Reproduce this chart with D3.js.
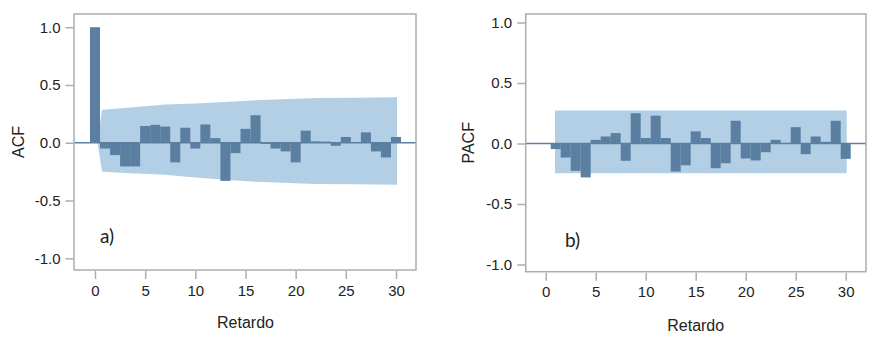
<!DOCTYPE html>
<html><head><meta charset="utf-8">
<script src="https://cdn.jsdelivr.net/npm/d3@7"></script>
<style>
html,body{margin:0;padding:0;background:#fff;}
svg text{font-family:"Liberation Sans",Arial,sans-serif;fill:#222;}
</style></head>
<body><svg id="c" width="884" height="346"></svg>
<script>
// ---- data ----
const acfLags = d3.range(0, 31);
const acfValues = [1.0, -0.05, -0.107, -0.205, -0.205, 0.145, 0.155, 0.14, -0.17, 0.13, -0.05, 0.158, 0.04, -0.33, -0.09, 0.12, 0.238, -0.01, -0.05, -0.075, -0.17, 0.105, 0.012, 0.01, -0.026, 0.05, 0.003, 0.09, -0.075, -0.127, 0.05];
const acfBandLags  = [0.25, 0.7, 3, 7, 10, 13, 16, 20, 22, 26, 30.1];
const acfBandUpper = [0, 0.286, 0.30, 0.33, 0.34, 0.353, 0.368, 0.38, 0.387, 0.39, 0.393];
const acfBandLower = [0, -0.25, -0.262, -0.277, -0.30, -0.32, -0.338, -0.35, -0.356, -0.36, -0.364];

const pacfLags = d3.range(1, 31);
const pacfValues = [-0.046, -0.116, -0.226, -0.28, 0.03, 0.058, 0.086, -0.143, 0.25, 0.045, 0.23, 0.045, -0.232, -0.18, 0.10, 0.045, -0.204, -0.163, 0.188, -0.124, -0.14, -0.072, 0.03, 0.005, 0.135, -0.088, 0.058, 0.014, 0.188, -0.127];
const pacfBandLags  = [0.93, 30.1];
const pacfBandUpper = [0.273, 0.273];
const pacfBandLower = [-0.245, -0.245];

const xTicks = [0, 5, 10, 15, 20, 25, 30];
const yTicks = [-1.0, -0.5, 0.0, 0.5, 1.0];
const xTitle = "Retardo";

const svg = d3.select("#c");
const barColor = "#5b7fa1", bandColor = "#b3cfe5", frameColor = "#a7afb4";
const fmtY = d => d.toFixed(1);

function panel(o) {
  const g = svg.append("g");
  const x = d3.scaleLinear().domain([0, 30]).range(o.xr);
  const y = d3.scaleLinear().domain([-1, 1]).range(o.yr);
  const [fx0, fx1] = o.fx, [fy0, fy1] = o.fy;

  // band
  const band = o.bandLags.map((l, i) => ({l, u: o.bandUpper[i], d: o.bandLower[i]}));
  g.append("path").datum(band)
    .attr("d", d3.area().x(d => x(d.l)).y0(d => y(d.d)).y1(d => y(d.u)))
    .attr("fill", bandColor);

  // bars
  g.selectAll("rect.bar").data(o.lags.map((l, i) => ({l, v: o.values[i]})))
    .join("rect").attr("class", "bar")
    .attr("x", d => x(d.l - 0.5))
    .attr("width", d => x(d.l + 0.5) - x(d.l - 0.5))
    .attr("y", d => y(Math.max(0, d.v)))
    .attr("height", d => Math.abs(y(d.v) - y(0)))
    .attr("fill", barColor);

  // zero line
  g.append("line").attr("x1", fx0).attr("x2", fx1).attr("y1", y(0)).attr("y2", y(0))
    .attr("stroke", barColor).attr("stroke-width", 1.3);

  // frame
  g.append("rect").attr("x", fx0).attr("y", fy0).attr("width", fx1 - fx0).attr("height", fy1 - fy0)
    .attr("fill", "none").attr("stroke", frameColor).attr("stroke-width", 1.5);

  // axes
  const ya = g.append("g").attr("transform", `translate(${fx0 - 0.5},0)`)
    .call(d3.axisLeft(y).tickValues(yTicks).tickFormat(fmtY).tickSize(8).tickPadding(5));
  const xa = g.append("g").attr("transform", `translate(0,${fy1 + 1})`)
    .call(d3.axisBottom(x).tickValues(xTicks).tickFormat(d => String(d)).tickSize(8).tickPadding(6));
  [ya, xa].forEach(a => {
    a.select(".domain").remove();
    a.selectAll("line").attr("stroke", frameColor).attr("stroke-width", 1.5);
    a.selectAll("text").style("font-size", "15px").attr("fill", "#1e1e1e");
  });

  // titles
  g.append("text").attr("transform", `translate(${o.ytx},${(fy0 + fy1) / 2}) rotate(-90)`)
    .attr("text-anchor", "middle").attr("dy", "0.35em").style("font-size", "16px").text(o.yTitle);
  g.append("text").attr("x", x(15)).attr("y", o.xty).attr("text-anchor", "middle")
    .style("font-size", "16px").text(xTitle);

  // panel letter
  g.append("text").attr("x", o.lx).attr("y", o.ly)
    .style("font-family", "Lato, 'Open Sans', sans-serif").style("font-size", "19px").attr("fill", "#0d0d0d")
    .text(o.letter);
}

panel({
  xr: [95, 396], yr: [258.3, 27.2], fx: [74, 416], fy: [14, 270],
  lags: acfLags, values: acfValues,
  bandLags: acfBandLags, bandUpper: acfBandUpper, bandLower: acfBandLower,
  yTitle: "ACF", ytx: 18, xty: 328, letter: "a)", lx: 100, ly: 243
});
panel({
  xr: [545.7, 845.7], yr: [264.5, 22.5], fx: [525.7, 866], fy: [14, 271.7],
  lags: pacfLags, values: pacfValues,
  bandLags: pacfBandLags, bandUpper: pacfBandUpper, bandLower: pacfBandLower,
  yTitle: "PACF", ytx: 468, xty: 331, letter: "b)", lx: 565, ly: 246.5
});
</script></body></html>
